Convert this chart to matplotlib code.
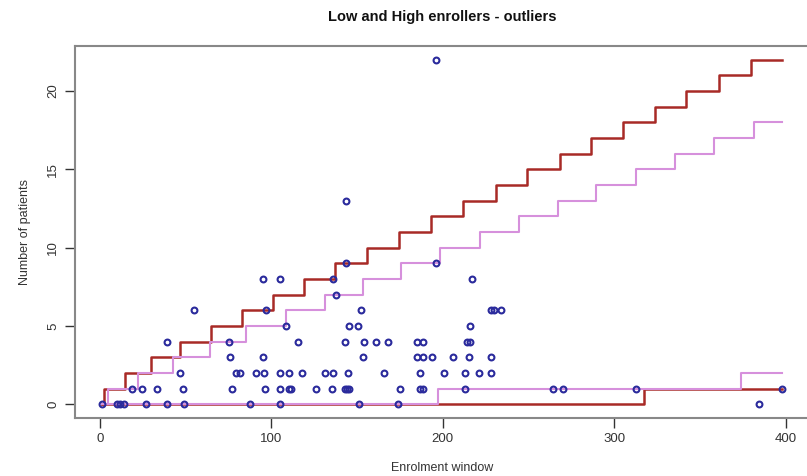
import numpy as np
import matplotlib
matplotlib.use("Agg")
import matplotlib.pyplot as plt

plt.rcParams['font.family'] = ['Liberation Sans', 'DejaVu Sans']

# enrolment day and number of patients recruited per site
enrol_day = [
    1.2, 10.2, 11.7, 14.0, 27.1, 39.1, 49.3, 87.8, 104.9, 151.2, 174.0, 384.4,
    18.9, 24.7, 33.5, 48.3, 77.2, 96.1, 104.9, 110.2, 111.7, 126.3, 135.6,
    142.8, 144.0, 145.2, 175.0, 186.6, 188.5, 213.0, 264.4, 269.9, 312.7, 397.8,
    46.9, 79.6, 81.5, 91.3, 95.8, 104.9, 110.2, 117.6, 131.2, 136.0, 144.8,
    165.8, 186.8, 200.7, 212.9, 221.0, 227.9,
    76.1, 95.2, 153.2, 185.1, 188.6, 193.5, 205.7, 215.2, 227.9,
    39.1, 75.1, 115.6, 142.7, 154.1, 160.9, 167.8, 185.1, 188.2, 214.3, 216.0,
    108.8, 145.5, 150.3, 215.8,
    54.9, 97.1, 152.2, 228.1, 230.1, 234.0,
    137.8,
    95.3, 104.9, 136.0, 216.8,
    143.8, 196.0,
    143.8,
    195.8,
]
n_patients = (
    [0] * 12 + [1] * 22 + [2] * 17 + [3] * 9 + [4] * 11 + [5] * 4
    + [6] * 6 + [7] + [8] * 4 + [9] * 2 + [13] + [22]
)

# upper limits (high enrollers)
high_red_x = [1, 2.7, 14.8, 29.6, 46.5, 65.0, 82.9, 101.0, 118.9, 137.0, 155.7,
              174.6, 193.1, 212.0, 231.0, 249.3, 268.2, 286.7, 304.8, 323.8,
              342.1, 360.8, 379.7, 398]
high_red_y = [0, 1, 2, 3, 4, 5, 6, 7, 8, 9, 10, 11, 12, 13, 14, 15, 16, 17,
              18, 19, 20, 21, 22, 22]
high_pink_x = [1, 4.7, 22.2, 42.6, 64.0, 85.5, 108.8, 131.2, 153.5, 175.5,
               198.4, 221.7, 244.7, 266.9, 289.4, 312.4, 335.4, 358.4, 381.4, 398]
high_pink_y = [0, 1, 2, 3, 4, 5, 6, 7, 8, 9, 10, 11, 12, 13, 14, 15, 16, 17,
               18, 18]

# lower limits (low enrollers)
low_red_x = [1, 317.1, 398]
low_red_y = [0, 1, 1]
low_pink_x = [1, 197.0, 373.9, 398]
low_pink_y = [0, 1, 2, 2]

red = '#a82a26'
pink = '#d690dc'

fig = plt.figure(figsize=(8.07, 4.76), dpi=100)
ax = fig.add_axes([0.0925, 0.1218, 0.9107, 0.7815])

ax.step(high_red_x, high_red_y, where='post', color=red, lw=1.8, zorder=2)
ax.step(low_red_x, low_red_y, where='post', color=red, lw=1.8, zorder=2)
ax.step(high_pink_x, high_pink_y, where='post', color=pink, lw=1.5, zorder=3)
ax.step(low_pink_x, low_pink_y, where='post', color=pink, lw=1.5, zorder=3)

ax.plot(enrol_day, n_patients, 'o', ms=4.2, mfc='none', mec='#2a2a9c',
        mew=1.5, zorder=4)

ax.set_xlim(-14.7, 413.9)
ax.set_ylim(-0.88, 22.88)
ax.set_xticks([0, 100, 200, 300, 400])
ax.set_yticks([0, 5, 10, 15, 20])
ax.tick_params(direction='out', length=7, width=1, colors='#333333',
               labelsize=9.5, labelcolor='#333333', pad=4)
for lab in ax.get_yticklabels():
    lab.set_rotation(90)
    lab.set_va('center')
for sp in ax.spines.values():
    sp.set_color('#888888')
    sp.set_linewidth(1.5)

ax.set_title('Low and High enrollers - outliers', fontsize=10.5,
             fontweight='bold', pad=18, color='#111111')
ax.set_xlabel('Enrolment window', fontsize=9, labelpad=12, color='#333333')
ax.set_ylabel('Number of patients', fontsize=9, labelpad=12, color='#333333')

fig.savefig('out.png', dpi=100)
